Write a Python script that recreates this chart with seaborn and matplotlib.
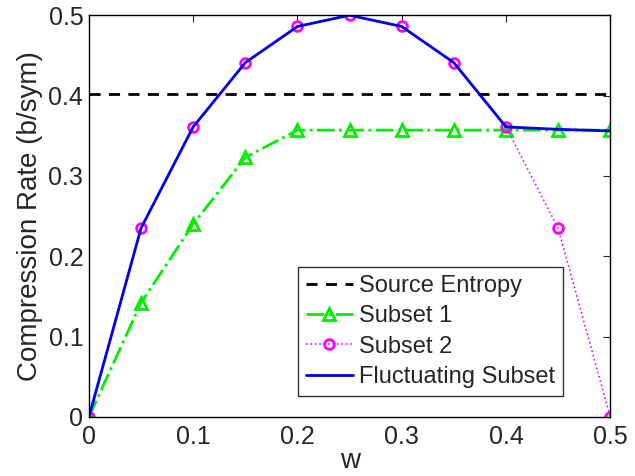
import numpy as np
import pandas as pd
import matplotlib
matplotlib.use("Agg")
import matplotlib.pyplot as plt
import seaborn as sns

w = [0, 0.05, 0.1, 0.15, 0.2, 0.25, 0.3, 0.35, 0.4, 0.45, 0.5]
source_entropy = 0.402
subset1 = [0, 0.142, 0.240, 0.323, 0.357, 0.357, 0.357, 0.357, 0.357, 0.357, 0.357]
subset2 = [0, 0.235, 0.361, 0.441, 0.486, 0.5, 0.486, 0.441, 0.361, 0.235, 0]
fluct = [0, 0.235, 0.361, 0.441, 0.486, 0.5, 0.486, 0.441, 0.361, 0.358, 0.356]

sns.set_style("white")
plt.rcParams['font.family'] = ['Liberation Sans', 'DejaVu Sans']

fig = plt.figure(figsize=(6.35, 4.76), dpi=100)
ax = fig.add_axes([0.140, 0.124, 0.821, 0.844])

df = pd.DataFrame({'w': w, 's1': subset1, 's2': subset2, 'fl': fluct})

ax.axhline(source_entropy, color='black', linestyle=(0, (4, 3)), linewidth=2, label='Source Entropy')
sns.lineplot(data=df, x='w', y='s1', ax=ax, color='#00ee00', linestyle='-.', linewidth=2,
             marker='^', markersize=8, markerfacecolor='none', markeredgecolor='#00ee00',
             markeredgewidth=2, label='Subset 1')
sns.lineplot(data=df, x='w', y='s2', ax=ax, color='#ff00ff', linestyle=':', linewidth=1.2,
             marker='o', markersize=7, markerfacecolor='none', markeredgecolor='#ff00ff',
             markeredgewidth=2, label='Subset 2')
sns.lineplot(data=df, x='w', y='fl', ax=ax, color='#0000ee', linestyle='-', linewidth=2,
             label='Fluctuating Subset')

ax.set_xlim(0, 0.5)
ax.set_ylim(0, 0.5)
ax.set_xticks([0, 0.1, 0.2, 0.3, 0.4, 0.5])
ax.set_yticks([0, 0.1, 0.2, 0.3, 0.4, 0.5])
ax.set_xticklabels(['0', '0.1', '0.2', '0.3', '0.4', '0.5'])
ax.set_yticklabels(['0', '0.1', '0.2', '0.3', '0.4', '0.5'])
ax.tick_params(direction='in', top=True, right=True, length=5, labelsize=18, width=0.8)
ax.tick_params(axis='x', pad=6)
ax.tick_params(axis='y', pad=4)
for s in ax.spines.values():
    s.set_color('black')
    s.set_linewidth(1)
ax.set_xlabel('w', fontsize=20, labelpad=-1)
ax.set_ylabel('Compression Rate (b/sym)', fontsize=20, labelpad=4)

leg = ax.legend(loc='lower right', bbox_to_anchor=(0.91, 0.052), fontsize=17, frameon=True,
                fancybox=False, handlelength=2.0, borderpad=0.35, labelspacing=0.35,
                handletextpad=0.25, borderaxespad=0)
leg.get_frame().set_edgecolor('black')
leg.get_frame().set_linewidth(1)

fig.savefig('out.png', dpi=100)
